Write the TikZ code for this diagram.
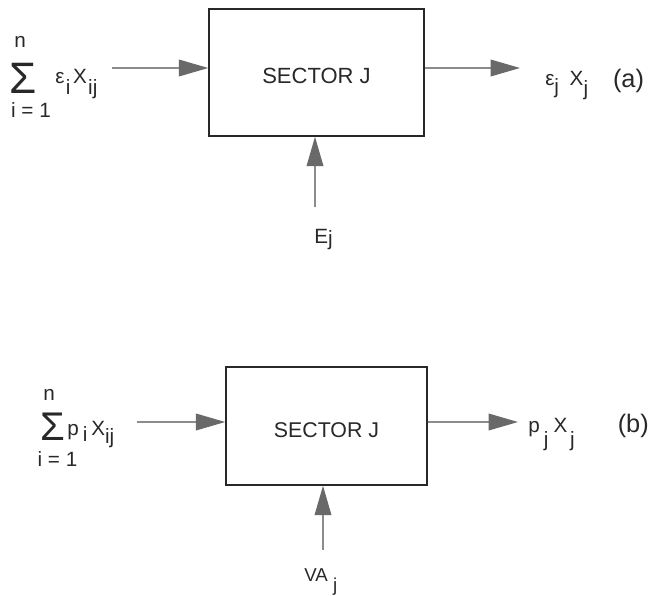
\documentclass[tikz,border=0pt]{standalone}
\usepackage{fontspec}
\setmainfont{Liberation Sans}
\usetikzlibrary{arrows.meta}

\definecolor{lineGray}{RGB}{140,140,140}
\definecolor{headGray}{RGB}{105,105,105}
\definecolor{inkGray}{RGB}{40,40,40}

\tikzset{
	sectorbox/.style={draw=inkGray, line width=1.1pt, inner sep=0pt, text=inkGray, text height=17pt},
	flow/.style={draw=lineGray, line width=1pt, -{Triangle[length=22pt, width=12.5pt, color=headGray]}},
	lbl/.style={inner sep=0pt, text=inkGray, font=\fontsize{15.5}{17}\selectfont},
	sumsign/.style={inner sep=0pt, text=inkGray, font=\fontsize{33}{35}\selectfont},
	tagtext/.style={inner sep=0pt, text=inkGray, font=\fontsize{19}{21}\selectfont},
}

\begin{document}
\begin{tikzpicture}[x=0.75pt, y=-0.75pt]
	
	\useasboundingbox (0,0) rectangle (650,596);
	
	%--- (a) sector J in value terms ---
	\node[sectorbox, minimum width=161.25pt, minimum height=95.25pt,
	font=\fontsize{16.5}{18}\selectfont] (secA) at (316.5,72.5) {SECTOR J};
	
	% input side
	\node[lbl] (nA) at (20,42) {n};
	\node[sumsign] (sumA) at (23.5,78) {Σ};
	\node[lbl] (lowA) at (31,110) {i = 1};
	\node[lbl, anchor=base west] (inLblA) at (55,83)
	{ε\kern1pt\raisebox{-9pt}{i}\kern2pt X\kern1pt\raisebox{-9pt}{ij}};
	
	% output side
	\node[lbl, anchor=base west] (outLblA) at (545,85)
	{ε\raisebox{-6pt}{j}\kern8pt X\raisebox{-8pt}{j}};
	\node[tagtext] (tagA) at (628.5,81) {(a)};
	
	% primary input
	\node[lbl, anchor=base west] (eLblA) at (314,243) {E\raisebox{-2pt}{j}};
	
	\coordinate (inA) at (112,68);
	\coordinate (outA) at (520,68);
	\coordinate (upA) at (315,207);
	
	\draw[flow] (inA) -- (secA.west |- inA);
	\draw[flow] (secA.east |- outA) -- (outA);
	\draw[flow] (upA) -- (upA |- secA.south);
	
	%--- (b) sector J in price terms ---
	\node[sectorbox, minimum width=150.75pt, minimum height=88.5pt,
	font=\fontsize{16}{18}\selectfont] (secB) at (326.5,426) {SECTOR J};
	
	% input side
	\node[lbl] (nB) at (49,395) {n};
	\node[sumsign, font=\fontsize{30}{32}\selectfont] (sumB) at (52.5,427) {Σ};
	\node[lbl] (lowB) at (57.5,459) {i = 1};
	\node[lbl, anchor=base west] (inLblB) at (67,435)
	{p\kern3pt\raisebox{-5pt}{i}\kern3pt X\raisebox{-6pt}{ij}};
	
	% output side
	\node[lbl, anchor=base west] (outLblB) at (528,432)
	{p\kern3pt\raisebox{-11pt}{j}\kern4pt X\kern2pt\raisebox{-11pt}{j}};
	\node[tagtext, anchor=east] (tagB) at (649,426) {(b)};
	
	% value added
	\node[lbl, anchor=base west, font=\fontsize{14}{16}\selectfont] (vaLblB) at (304,581)
	{VA\kern4pt\raisebox{-8pt}{j}};
	
	\coordinate (inB) at (137,422);
	\coordinate (outB) at (518,422);
	\coordinate (upB) at (323,550);
	
	\draw[flow] (inB) -- (secB.west |- inB);
	\draw[flow] (secB.east |- outB) -- (outB);
	\draw[flow] (upB) -- (upB |- secB.south);
	
\end{tikzpicture}
\end{document}
